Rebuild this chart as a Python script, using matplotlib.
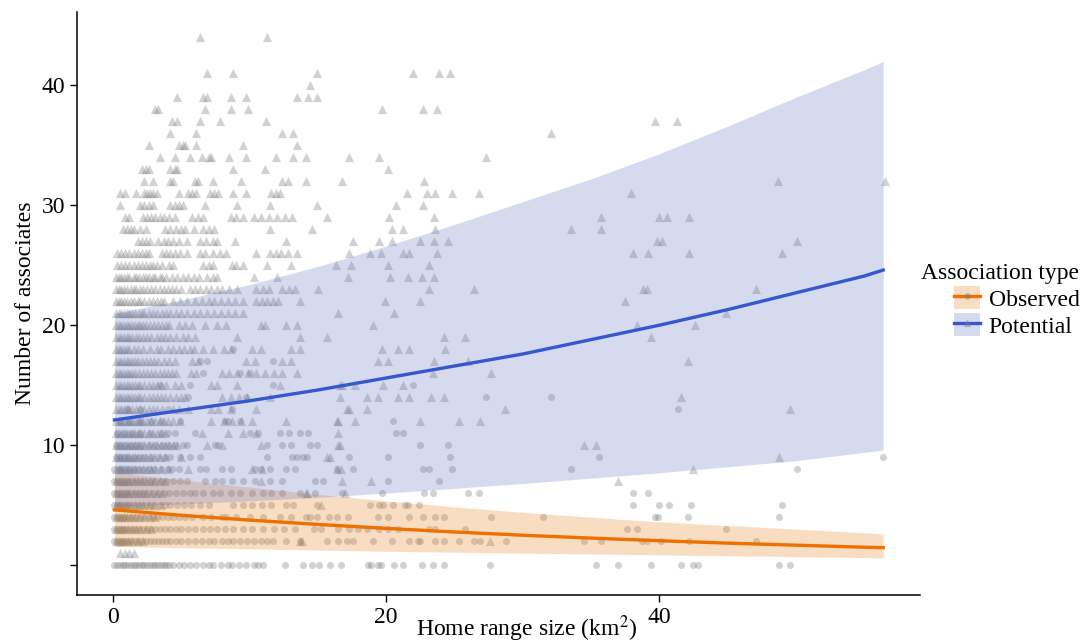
import matplotlib.pyplot as plt
from matplotlib.lines import Line2D
from matplotlib.patches import Patch

# Potential associates (triangles): number of associates -> home range sizes
potential_pts = {
    44: [6.4, 11.3],
    41: [6.9, 8.8, 14.9, 22.0, 23.9, 24.7],
    40: [14.4],
    39: [4.7, 6.6, 6.9, 8.6, 9.7, 13.5, 14.3, 14.9],
    38: [3.1, 3.3, 6.7, 8.6, 9.9, 19.7, 22.7, 23.7],
    37: [4.3, 4.7, 6.4, 7.8, 11.2, 39.7, 41.3],
    36: [4.2, 6.1, 12.4, 13.2, 32.1],
    35: [2.6, 4.8, 5.1, 5.3, 6.1, 9.5, 13.5],
    34: [3.4, 4.5, 5.6, 6.5, 7.0, 7.2, 8.5, 9.7, 11.9, 13.2, 14.1, 17.3, 19.5, 27.3],
    33: [2.1, 2.4, 2.6, 4.2, 4.5, 4.7, 8.8, 11.1, 20.1],
    32: [2.3, 2.9, 4.2, 4.4, 6.0, 6.2, 7.3, 9.4, 12.4, 12.8, 14.1, 16.8, 22.8, 48.7, 56.5],
    31: [0.5, 0.9, 1.7, 2.3, 2.5, 2.7, 2.9, 3.2, 4.8, 5.5, 5.8, 6.1, 7.1, 7.4, 7.7, 8.8,
         9.7, 11.6, 11.9, 12.2, 21.5, 23.0, 23.6, 24.8, 26.8, 37.9],
    30: [0.5, 2.0, 2.3, 2.6, 2.9, 4.2, 4.5, 4.8, 5.1, 6.7, 9.1, 11.5, 14.9, 20.7, 22.7],
    29: [0.9, 1.2, 2.2, 2.5, 2.8, 3.1, 3.4, 3.7, 4.1, 4.5, 5.8, 6.2, 6.6, 8.6, 9.0, 9.5,
         10.3, 10.8, 11.4, 12.0, 12.6, 13.1, 15.7, 20.2, 23.5, 35.7, 40.0, 40.6, 42.2],
    28: [0.7, 1.0, 1.3, 1.5, 2.0, 2.4, 3.8, 4.2, 4.6, 5.0, 5.3, 5.9, 6.6, 7.0, 7.4, 11.5,
         14.6, 20.4, 21.2, 23.6, 33.5, 35.7],
    27: [1.8, 2.1, 2.4, 2.7, 3.3, 3.7, 4.0, 4.4, 4.8, 5.4, 6.4, 6.8, 7.3, 7.6, 8.9, 12.7,
         17.6, 19.5, 20.4, 22.5, 23.5, 24.5, 39.8, 40.2, 50.1],
    26: [0.3, 0.6, 0.9, 1.2, 1.5, 1.8, 2.1, 2.4, 2.6, 3.6, 3.9, 4.2, 4.5, 4.9, 5.4, 6.4,
         6.7, 7.3, 7.8, 8.3, 10.5, 11.5, 11.9, 12.3, 12.8, 13.5, 17.3, 18.8, 19.6, 21.2,
         21.7, 23.7, 38.1, 39.2, 42.2, 49.0],
    25: [0.3, 0.6, 0.9, 1.2, 1.5, 1.8, 2.1, 2.4, 2.7, 2.9, 3.2, 3.6, 4.1, 4.4, 6.6, 7.0,
         7.3, 8.7, 9.0, 9.5, 11.3, 13.0, 16.3, 17.4, 20.1, 23.1],
    24: [0.2, 0.4, 0.6, 0.8, 1.0, 1.2, 1.5, 1.7, 1.9, 2.2, 2.4, 2.6, 2.9, 3.1, 3.4, 3.6,
         3.9, 4.3, 4.7, 5.1, 5.5, 5.9, 6.3, 6.9, 7.3, 7.6, 10.3, 12.0, 17.2, 20.3, 21.6,
         22.6, 23.5],
    23: [0.2, 0.4, 0.6, 0.8, 1.0, 1.3, 1.5, 1.7, 2.0, 2.2, 2.5, 2.8, 3.1, 3.4, 3.7, 4.0,
         4.3, 4.6, 5.0, 5.6, 6.0, 6.4, 6.8, 7.2, 7.6, 8.0, 8.5, 9.1, 10.5, 11.0, 11.4,
         12.4, 12.9, 13.3, 15.0, 23.1, 26.4, 38.8, 39.1, 47.1],
    22: [0.2, 0.4, 0.6, 0.8, 1.0, 1.3, 1.5, 1.8, 2.0, 2.3, 2.6, 2.9, 3.2, 3.5, 3.7, 4.4,
         4.9, 5.4, 6.0, 6.5, 7.0, 7.4, 7.9, 8.4, 8.9, 9.5, 10.5, 10.9, 11.3, 11.7, 12.1,
         13.7, 19.9, 22.5, 37.5],
    21: [0.2, 0.4, 0.6, 0.8, 1.0, 1.2, 1.4, 1.6, 1.9, 2.1, 2.3, 2.6, 2.9, 3.2, 3.6, 3.9,
         4.2, 4.6, 5.0, 5.4, 5.9, 6.4, 6.9, 7.4, 7.9, 8.4, 8.9, 9.5, 16.5, 20.6, 44.9],
    20: [0.2, 0.4, 0.6, 0.8, 1.0, 1.2, 1.4, 1.6, 1.8, 2.0, 2.2, 2.4, 2.7, 3.0, 3.3, 3.6,
         3.9, 4.1, 4.8, 5.3, 5.8, 6.7, 7.6, 8.3, 10.8, 11.1, 12.7, 13.5, 19.0, 38.4, 42.6],
    19: [0.2, 0.4, 0.6, 0.8, 1.0, 1.2, 1.4, 1.7, 1.9, 2.2, 2.5, 2.8, 3.2, 3.5, 3.8, 4.2,
         4.6, 5.1, 5.5, 6.0, 9.1, 13.7, 15.7, 24.2, 25.8, 39.4],
    18: [0.2, 0.4, 0.6, 0.8, 1.0, 1.2, 1.5, 1.8, 2.2, 2.7, 3.2, 3.5, 4.0, 4.4, 4.8, 5.2,
         5.6, 5.9, 6.6, 7.3, 8.1, 8.6, 10.2, 10.8, 13.0, 13.7, 19.7, 20.9, 21.7, 24.3],
    17: [0.2, 0.4, 0.6, 0.8, 1.0, 1.2, 1.4, 1.6, 1.8, 2.1, 2.4, 2.7, 3.0, 3.3, 3.7, 4.1,
         4.5, 5.8, 6.2, 9.7, 10.4, 12.4, 13.0, 19.4, 20.1, 23.5, 26.0, 42.1],
    16: [0.2, 0.4, 0.6, 0.8, 1.0, 1.2, 1.4, 1.6, 1.9, 2.2, 2.5, 2.8, 3.1, 3.4, 3.7, 4.0,
         4.3, 4.6, 5.7, 6.1, 8.0, 8.5, 9.1, 9.9, 10.5, 11.1, 11.8, 12.4, 13.5, 23.4, 27.7],
    15: [0.2, 0.4, 0.6, 0.8, 1.0, 1.2, 1.4, 1.6, 1.8, 2.0, 2.3, 2.6, 2.9, 3.2, 3.5, 3.9,
         4.5, 5.0, 7.2, 7.6, 9.1, 12.2, 16.6, 16.8, 17.7, 19.8, 21.2],
    14: [0.2, 0.4, 0.6, 0.8, 1.0, 1.2, 1.4, 1.6, 1.8, 2.0, 2.3, 2.6, 2.9, 3.2, 3.5, 3.8,
         4.2, 4.6, 5.0, 5.3, 8.0, 8.6, 9.2, 9.8, 11.5, 16.6, 18.6, 19.4, 20.9, 21.7, 23.3,
         24.2, 41.6],
    13: [0.2, 0.4, 0.6, 0.8, 1.0, 1.2, 1.4, 1.7, 2.0, 2.3, 2.6, 2.9, 3.2, 3.6, 4.4, 4.8,
         5.5, 7.2, 7.7, 8.6, 10.5, 17.1, 17.3, 18.6, 28.7, 49.6],
    12: [0.2, 0.4, 0.6, 0.8, 1.0, 1.2, 1.4, 1.6, 1.8, 2.0, 2.2, 2.5, 2.8, 3.1, 3.4, 3.7,
         4.0, 4.4, 4.9, 7.2, 8.1, 8.7, 9.4, 10.2, 12.7, 16.4, 16.5, 17.7, 22.5, 25.3, 26.9],
    11: [0.2, 0.4, 0.6, 0.8, 1.0, 1.2, 1.4, 1.6, 1.8, 2.0, 2.3, 2.6, 2.9, 3.2, 3.5, 3.8,
         6.5, 8.4, 9.5, 10.5, 16.5],
    10: [0.2, 0.4, 0.6, 0.8, 1.0, 1.2, 1.4, 1.6, 1.8, 2.0, 2.3, 2.6, 2.9, 3.2, 3.5, 3.8,
         4.1, 4.4, 4.7, 6.9, 8.0, 10.8, 16.5, 16.6, 34.5, 35.4],
    9: [0.2, 0.4, 0.6, 0.8, 1.0, 1.2, 1.4, 1.6, 1.8, 2.1, 2.4, 2.7, 3.0, 3.4, 3.8, 5.0,
        15.7, 15.9, 48.8],
    8: [0.2, 0.4, 0.6, 0.8, 1.0, 1.2, 1.4, 1.6, 1.9, 2.2, 2.5, 2.8, 3.1, 3.5, 4.0, 5.5,
        10.2, 10.9, 16.4, 16.7, 42.5],
    7: [0.2, 0.4, 0.6, 0.8, 1.0, 1.2, 1.5, 1.8, 2.1, 2.4, 2.7, 3.0, 3.4, 3.8, 10.8, 16.8,
        18.9, 37.0],
    6: [0.2, 0.4, 0.6, 0.8, 1.0, 1.2, 1.5, 1.8, 2.1, 2.4, 2.8, 3.2, 3.6, 14.1, 14.2, 17.0],
    5: [0.2, 0.4, 0.6, 0.8, 1.0, 1.3, 1.6, 1.9, 2.2, 2.6, 3.0, 3.5, 15.2],
    4: [0.2, 0.4, 0.6, 0.8, 1.0, 1.3, 1.6, 1.9, 2.3, 2.7, 3.1],
    3: [0.2, 0.4, 0.6, 0.8, 1.1, 1.4, 1.7, 2.0, 2.4, 2.8],
    2: [0.2, 0.4, 0.6, 0.8, 1.1, 1.4, 1.8, 2.2, 13.7, 13.8, 27.6],
    1: [0.5, 0.9, 1.2, 1.5],
}

# Observed associates (circles)
observed_pts = {
    0: [0.1, 0.3, 0.5, 0.7, 0.9, 1.1, 1.3, 1.5, 1.7, 1.9, 2.1, 2.3, 2.5, 2.7, 2.9, 3.1,
        3.3, 3.5, 3.7, 3.9, 4.1, 4.4, 4.8, 5.2, 5.6, 6.1, 6.6, 7.0, 7.3, 7.9, 8.4, 8.7,
        9.2, 9.7, 10.3, 10.6, 11.0, 12.6, 13.9, 14.6, 15.1, 15.9, 16.7, 18.7, 18.9, 19.4,
        19.6, 20.6, 21.2, 22.6, 23.4, 24.2, 27.6, 35.4, 37.0, 39.4, 41.6, 42.5, 42.8,
        48.8, 49.6],
    2: [0.1, 0.3, 0.5, 0.7, 0.9, 1.1, 1.3, 1.6, 1.8, 2.1, 2.4, 2.7, 3.0, 3.3, 3.6, 3.9,
        4.2, 4.6, 5.0, 5.5, 6.0, 6.5, 7.0, 7.4, 8.0, 8.4, 8.8, 9.3, 9.8, 10.3, 10.8,
        11.3, 11.7, 12.7, 13.7, 15.7, 16.5, 17.1, 17.6, 19.0, 20.4, 21.7, 22.3, 22.5,
        23.6, 24.2, 25.3, 26.4, 26.9, 28.8, 34.5, 35.7, 38.7, 39.1, 40.1, 42.2, 47.1],
    3: [0.1, 0.3, 0.5, 0.7, 0.9, 1.1, 1.4, 1.6, 1.9, 2.2, 2.5, 2.8, 3.1, 3.4, 3.8, 4.2,
        4.6, 5.0, 5.5, 6.0, 6.6, 7.1, 7.6, 8.2, 8.8, 9.5, 10.2, 11.0, 11.8, 12.5, 13.3,
        14.7, 15.2, 16.5, 17.3, 17.9, 18.6, 19.5, 20.1, 20.9, 23.1, 23.6, 25.8, 37.6,
        38.4, 44.9],
    4: [0.1, 0.3, 0.5, 0.7, 0.9, 1.2, 1.4, 1.7, 2.0, 2.3, 2.6, 2.9, 3.2, 3.6, 4.0, 4.4,
        4.8, 5.3, 5.8, 6.6, 7.2, 8.0, 8.3, 9.0, 10.0, 11.0, 12.2, 13.0, 14.1, 14.4, 14.9,
        15.8, 16.4, 17.2, 19.4, 20.1, 21.7, 22.7, 23.6, 24.2, 27.7, 31.5, 39.7, 39.9,
        42.1, 48.8],
    5: [0.1, 0.3, 0.5, 0.7, 1.0, 1.2, 1.5, 1.8, 2.1, 2.4, 2.7, 3.0, 3.4, 3.8, 4.2, 4.7,
        5.2, 5.7, 6.4, 7.0, 8.8, 9.5, 10.2, 10.9, 11.6, 12.7, 13.2, 14.9, 18.8, 19.5,
        19.8, 20.5, 21.4, 21.6, 22.4, 38.1, 40.0, 40.7, 42.3, 49.0],
    6: [0.1, 0.3, 0.5, 0.8, 1.0, 1.3, 1.6, 1.9, 2.2, 2.5, 2.9, 3.3, 3.7, 4.1, 4.6, 5.1,
        5.6, 6.0, 6.6, 7.3, 7.8, 8.6, 9.3, 10.2, 11.0, 11.6, 12.4, 13.7, 14.8, 16.8, 19.7,
        22.8, 23.4, 26.0, 26.8, 38.1, 39.2],
    7: [0.1, 0.3, 0.6, 0.8, 1.1, 1.4, 1.7, 2.0, 2.3, 2.7, 3.1, 3.5, 3.9, 4.4, 4.9, 5.4,
        6.7, 7.5, 8.0, 8.7, 9.5, 10.4, 11.5, 12.4, 14.8, 15.4, 20.1, 23.9],
    8: [0.1, 0.4, 0.6, 0.9, 1.2, 1.5, 1.8, 2.2, 2.6, 3.0, 3.5, 4.0, 4.3, 4.8, 6.4, 6.8,
        8.0, 8.6, 10.4, 10.8, 11.5, 12.7, 13.3, 16.4, 17.6, 22.7, 23.1, 24.8, 33.5, 50.1],
    9: [0.2, 0.5, 0.8, 1.1, 1.5, 1.9, 2.3, 2.8, 3.3, 3.8, 4.2, 4.9, 5.6, 6.4, 11.3, 13.1,
        13.5, 13.9, 14.2, 17.3, 20.1, 24.7, 35.6, 56.4],
    10: [0.2, 0.5, 0.9, 1.3, 1.7, 2.1, 2.6, 3.1, 3.6, 4.0, 4.5, 5.1, 5.4, 7.5, 7.7, 11.3,
         12.4, 13.0, 14.4, 14.9, 22.5, 24.5],
    11: [0.3, 0.8, 1.4, 2.0, 2.7, 3.5, 4.0, 4.5, 6.0, 10.0, 10.6, 12.2, 12.9, 13.7, 14.3,
         20.7, 21.2],
    12: [0.5, 1.2, 2.0, 2.8, 3.5, 4.9, 8.2, 8.4, 9.3, 20.5],
    13: [1.0, 2.0, 4.0, 8.7, 41.4],
    14: [5.5, 9.7, 27.3, 32.1],
    15: [3.4, 5.6, 11.7, 22.0],
    16: [6.6, 9.3, 10.0],
    17: [6.4, 6.9, 11.7],
    18: [8.8],
}

# Fitted curves with 95% bands
fit_x = [0.1, 5, 10, 15, 20, 25, 30, 35, 40, 45, 50, 55, 56.4]
potential_fit = [12.1, 12.9, 13.7, 14.6, 15.6, 16.6, 17.6, 18.8, 20.0, 21.3, 22.7, 24.1, 24.6]
potential_hi = [21.0, 22.1, 23.4, 24.9, 26.6, 28.4, 30.3, 32.2, 34.3, 36.6, 39.0, 41.3, 42.0]
potential_lo = [4.9, 5.1, 5.35, 5.65, 6.0, 6.4, 6.8, 7.25, 7.7, 8.2, 8.7, 9.4, 9.6]
observed_fit = [4.6, 4.15, 3.75, 3.39, 3.06, 2.76, 2.49, 2.25, 2.03, 1.83, 1.66, 1.49, 1.45]
observed_hi = [7.75, 7.1, 6.5, 5.9, 5.35, 4.85, 4.4, 4.0, 3.6, 3.3, 3.0, 2.7, 2.6]
observed_lo = [1.55, 1.45, 1.35, 1.25, 1.15, 1.07, 1.0, 0.92, 0.85, 0.78, 0.7, 0.63, 0.6]

y_ticks = [0, 10, 20, 30, 40]
y_ticklabels = ['', '10', '20', '30', '40']
x_ticks = [0, 20, 40]

orange_line, orange_fill = '#EE7000', '#EB7B13'
blue_line, blue_fill = '#3557CF', '#5B6FC3'

plt.rcParams['font.family'] = ['Liberation Serif', 'DejaVu Serif']
plt.rcParams['mathtext.fontset'] = 'stix'

fig = plt.figure(figsize=(10.85, 6.44), dpi=100)
ax = fig.add_axes([0.071, 0.076, 0.777, 0.905])


def flatten(pts):
    xs, ys = [], []
    for y, row in pts.items():
        xs.extend(row)
        ys.extend([y] * len(row))
    return xs, ys


px, py = flatten(potential_pts)
ox, oy = flatten(observed_pts)
ax.scatter(px, py, marker='^', s=44, color='grey', alpha=0.35, linewidths=0, zorder=2)
ax.scatter(ox, oy, marker='o', s=26, color='grey', alpha=0.35, linewidths=0, zorder=2)

ax.fill_between(fit_x, observed_lo, observed_hi, color=orange_fill, alpha=0.25, lw=0, zorder=3)
ax.fill_between(fit_x, potential_lo, potential_hi, color=blue_fill, alpha=0.25, lw=0, zorder=3)
ax.plot(fit_x, observed_fit, color=orange_line, lw=2.4, zorder=4)
ax.plot(fit_x, potential_fit, color=blue_line, lw=2.4, zorder=4)

ax.set_xlim(-2.64, 59.1)
ax.set_ylim(-2.5, 46.1)
ax.set_xticks(x_ticks)
ax.set_yticks(y_ticks)
ax.set_yticklabels(y_ticklabels)
ax.tick_params(labelsize=17, length=5, width=1, color='black', labelcolor='black')
for side in ['top', 'right']:
    ax.spines[side].set_visible(False)
for side in ['left', 'bottom']:
    ax.spines[side].set_linewidth(1.1)

ax.set_xlabel('Home range size (km$^2$)', fontsize=17)
ax.xaxis.set_label_coords(0.533, -0.031)
ax.set_ylabel('Number of associates', fontsize=17, labelpad=4)

handles = [
    (Patch(facecolor=orange_fill, alpha=0.25, lw=0),
     Line2D([], [], color=orange_line, lw=2.4),
     Line2D([], [], marker='o', ls='', color='grey', alpha=0.35, ms=4)),
    (Patch(facecolor=blue_fill, alpha=0.25, lw=0),
     Line2D([], [], color=blue_line, lw=2.4),
     Line2D([], [], marker='^', ls='', color='grey', alpha=0.35, ms=4)),
]
fig.legend(handles, ['Observed', 'Potential'], title='Association type',
           loc='upper left', bbox_to_anchor=(0.834, 0.618), frameon=False,
           fontsize=17, title_fontsize=17, alignment='right',
           handlelength=1.1, handleheight=1.15, labelspacing=0.1,
           handletextpad=0.35, borderpad=0.2)

fig.savefig('out.png', dpi=100)
